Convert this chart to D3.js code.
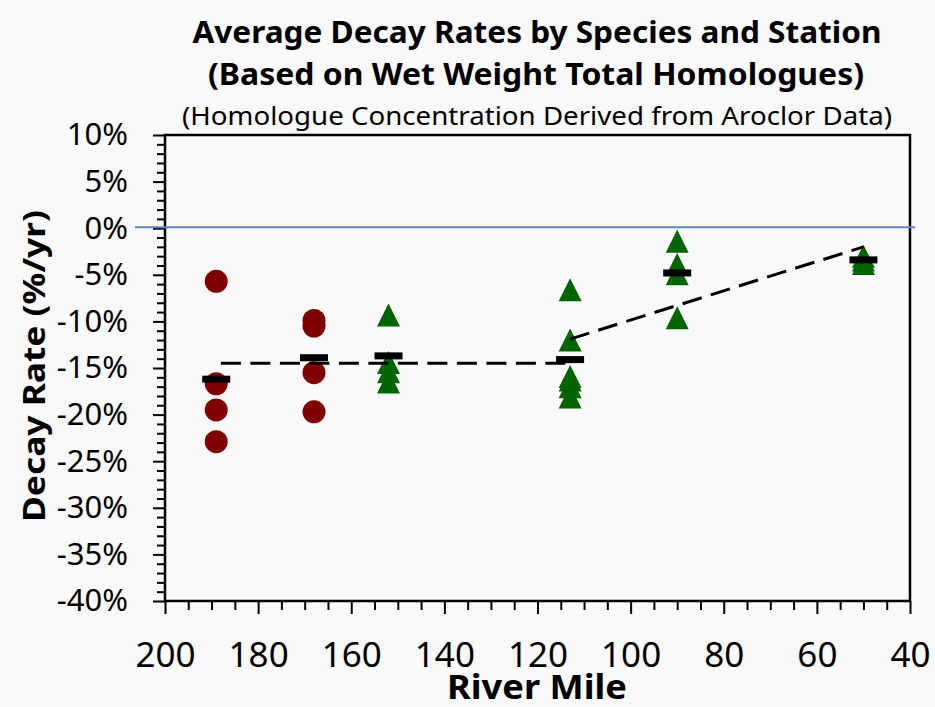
<!DOCTYPE html>
<html>
<head>
<meta charset="utf-8">
<script src="https://cdn.jsdelivr.net/npm/d3@7"></script>
<style>
  html, body { margin: 0; padding: 0; background: #f9f9f9; }
  svg { display: block; font-family: "Noto Sans", "Open Sans", sans-serif; }
</style>
</head>
<body>
<svg id="chart" width="935" height="707"></svg>
<script>
// Individual decay rates (%/yr) by river mile, one array pair per species
const speciesAMiles = [189, 189, 189, 189, 168, 168, 168, 168];
const speciesARates = [-5.7, -16.7, -19.5, -22.9, -9.9, -10.5, -15.5, -19.7];

const speciesBMiles = [152, 152, 152, 152, 113, 113, 113, 113, 113, 113, 90, 90, 90, 90, 50, 50, 50];
const speciesBRates = [-9.3, -14.4, -15.4, -16.5, -6.6, -12.0, -15.9, -16.3, -17.0, -18.1, -1.4, -3.9, -4.9, -9.6, -3.0, -3.4, -3.8];

// Station averages
const meanMiles = [189, 168, 152, 113, 90, 50];
const meanRates = [-16.2, -13.9, -13.7, -14.1, -4.8, -3.4];

// Piecewise trend (two segments)
const trendStartMiles = [188, 113];
const trendStartRates = [-14.5, -11.9];
const trendEndMiles = [113, 50];
const trendEndRates = [-14.5, -2.0];

// Axis ticks
const xMajorTicks = [200, 180, 160, 140, 120, 100, 80, 60, 40];
const xTickLabels = ["200", "180", "160", "140", "120", "100", "80", "60", "40"];
const yMajorTicks = [10, 5, 0, -5, -10, -15, -20, -25, -30, -35, -40];
const yTickLabels = ["10%", "5%", "0%", "-5%", "-10%", "-15%", "-20%", "-25%", "-30%", "-35%", "-40%"];

const svg = d3.select("#chart");
const plotLeft = 165, plotRight = 910, plotTop = 135, plotBottom = 601;

const x = d3.scaleLinear().domain([200, 40]).range([plotLeft, plotRight]);
const y = d3.scaleLinear().domain([10, -40]).range([plotTop, plotBottom]);

// Titles
svg.append("text").attr("x", 537).attr("y", 43).attr("text-anchor", "middle")
  .attr("font-size", 30).attr("font-weight", "bold")
  .attr("textLength", 689).attr("lengthAdjust", "spacingAndGlyphs")
  .text("Average Decay Rates by Species and Station");
svg.append("text").attr("x", 536).attr("y", 85).attr("text-anchor", "middle")
  .attr("font-size", 30).attr("font-weight", "bold")
  .attr("textLength", 656).attr("lengthAdjust", "spacingAndGlyphs")
  .text("(Based on Wet Weight Total Homologues)");
svg.append("text").attr("x", 537).attr("y", 125).attr("text-anchor", "middle")
  .attr("font-size", 26)
  .attr("textLength", 710).attr("lengthAdjust", "spacingAndGlyphs")
  .text("(Homologue Concentration Derived from Aroclor Data)");

// Minor ticks
const xMinor = d3.range(200, 39, -5).filter(v => v % 20 !== 0);
const yMinor = d3.range(10, -41, -1).filter(v => v % 5 !== 0);

svg.append("g").attr("transform", `translate(0,${plotBottom})`)
  .call(d3.axisBottom(x).tickValues(xMinor).tickSize(9).tickSizeOuter(0).tickFormat(""))
  .call(g => g.select(".domain").remove())
  .call(g => g.selectAll("line").attr("stroke", "#000").attr("stroke-width", 2));

svg.append("g").attr("transform", `translate(${plotLeft},0)`)
  .call(d3.axisLeft(y).tickValues(yMinor).tickSize(8).tickSizeOuter(0).tickFormat(""))
  .call(g => g.select(".domain").remove())
  .call(g => g.selectAll("line").attr("stroke", "#000").attr("stroke-width", 2));

// Major ticks with labels
svg.append("g").attr("transform", `translate(0,${plotBottom})`)
  .call(d3.axisBottom(x).tickValues(xMajorTicks).tickSize(13).tickPadding(28).tickSizeOuter(0)
    .tickFormat((d, i) => xTickLabels[i]))
  .call(g => g.select(".domain").remove())
  .call(g => g.selectAll("line").attr("stroke", "#000").attr("stroke-width", 2))
  .call(g => g.selectAll("text").attr("font-size", 35).attr("fill", "#000")
    .attr("font-family", "'Noto Sans', sans-serif"));

svg.append("g").attr("transform", `translate(${plotLeft},0)`)
  .call(d3.axisLeft(y).tickValues(yMajorTicks).tickSize(12).tickPadding(25).tickSizeOuter(0)
    .tickFormat((d, i) => yTickLabels[i]))
  .call(g => g.select(".domain").remove())
  .call(g => g.selectAll("line").attr("stroke", "#000").attr("stroke-width", 2))
  .call(g => g.selectAll("text").attr("font-size", 31).attr("fill", "#000")
    .attr("font-family", "'Noto Sans', sans-serif"));

// Plot frame
svg.append("rect").attr("x", plotLeft).attr("y", plotTop)
  .attr("width", plotRight - plotLeft).attr("height", plotBottom - plotTop)
  .attr("fill", "none").attr("stroke", "#000").attr("stroke-width", 2.5);

// Axis titles
svg.append("text").attr("transform", `translate(45,${366}) rotate(-90)`)
  .attr("text-anchor", "middle").attr("font-size", 30).attr("font-weight", "bold")
  .attr("textLength", 312).attr("lengthAdjust", "spacingAndGlyphs")
  .text("Decay Rate (%/yr)");
svg.append("text").attr("x", 537).attr("y", 699).attr("text-anchor", "middle")
  .attr("font-size", 34).attr("font-weight", "bold")
  .attr("textLength", 180).attr("lengthAdjust", "spacingAndGlyphs")
  .text("River Mile");

// Zero reference line, running slightly past the frame
svg.append("line")
  .attr("x1", plotLeft - 30).attr("x2", plotRight + 5)
  .attr("y1", y(0) - 1).attr("y2", y(0) - 1)
  .attr("stroke", "#5a8ac6").attr("stroke-width", 2);

// Species A: circles
svg.append("g").selectAll("circle")
  .data(speciesAMiles.map((m, i) => [m, speciesARates[i]]))
  .join("circle")
  .attr("cx", d => x(d[0])).attr("cy", d => y(d[1]))
  .attr("r", 11.5).attr("fill", "#7f0000");

// Species B: triangles centred on their bounding box
const triangle = {
  draw(ctx, size) {
    const h = Math.sqrt(size);
    ctx.moveTo(0, -h / 2);
    ctx.lineTo(h / 2, h / 2);
    ctx.lineTo(-h / 2, h / 2);
    ctx.closePath();
  }
};
svg.append("g").selectAll("path")
  .data(speciesBMiles.map((m, i) => [m, speciesBRates[i]]))
  .join("path")
  .attr("transform", d => `translate(${x(d[0])},${y(d[1])})`)
  .attr("d", d3.symbol().type(triangle).size(23 * 23))
  .attr("fill", "#006400");

// Trend segments
svg.append("g").selectAll("line")
  .data(trendStartMiles.map((m, i) => ({ m0: m, r0: trendStartRates[i], m1: trendEndMiles[i], r1: trendEndRates[i] })))
  .join("line")
  .attr("x1", d => x(d.m0)).attr("y1", d => y(d.r0))
  .attr("x2", d => x(d.m1)).attr("y2", d => y(d.r1))
  .attr("stroke", "#000").attr("stroke-width", 3)
  .attr("stroke-dasharray", "20,9.5");

// Station averages
svg.append("g").selectAll("rect")
  .data(meanMiles.map((m, i) => [m, meanRates[i]]))
  .join("rect")
  .attr("x", d => x(d[0]) - 14).attr("y", d => y(d[1]) - 3.5)
  .attr("width", 28).attr("height", 7)
  .attr("fill", "#000");
</script>
</body>
</html>
